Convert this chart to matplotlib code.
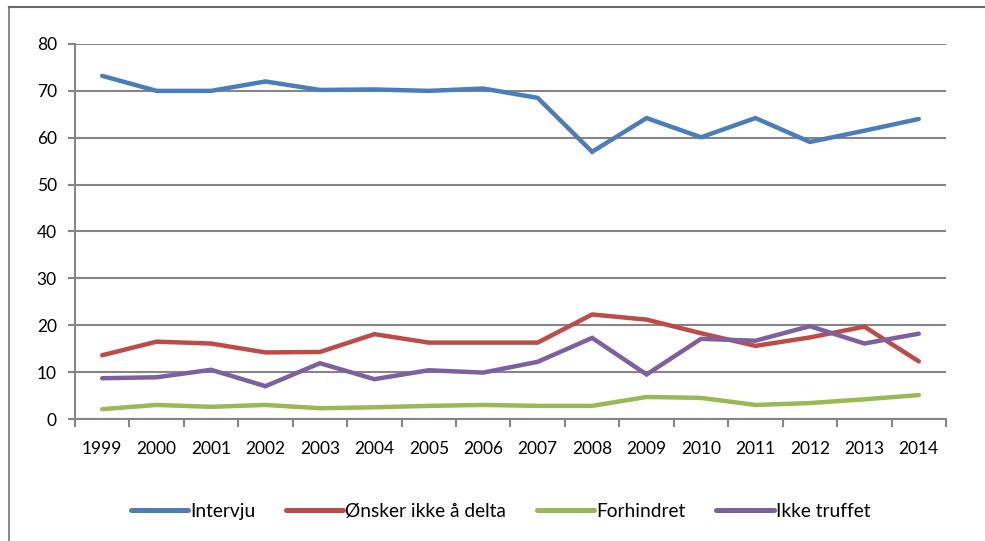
import matplotlib
matplotlib.use("Agg")
import matplotlib.pyplot as plt
from matplotlib.lines import Line2D
import numpy as np

plt.rcParams['font.family'] = ['Lato', 'DejaVu Sans']

years = ['1999', '2000', '2001', '2002', '2003', '2004', '2005', '2006',
         '2007', '2008', '2009', '2010', '2011', '2012', '2013', '2014']
intervju = [73.2, 70.0, 70.0, 72.0, 70.2, 70.3, 70.0, 70.5,
            68.5, 57.0, 64.2, 60.1, 64.2, 59.1, 61.5, 64.0]
onsker = [13.6, 16.5, 16.1, 14.2, 14.3, 18.1, 16.3, 16.3,
          16.3, 22.3, 21.2, 18.3, 15.6, 17.4, 19.7, 12.3]
forhindret = [2.1, 3.0, 2.6, 3.0, 2.3, 2.5, 2.8, 3.0,
              2.8, 2.8, 4.7, 4.5, 3.0, 3.4, 4.2, 5.1]
ikke_truffet = [8.7, 8.9, 10.5, 7.0, 11.9, 8.5, 10.4, 9.9,
                12.2, 17.3, 9.5, 17.1, 16.7, 19.8, 16.1, 18.2]

series = [
    ('Intervju', intervju, '#4A7EBB'),
    ('Ønsker ikke å delta', onsker, '#BE4B48'),
    ('Forhindret', forhindret, '#98B954'),
    ('Ikke truffet', ikke_truffet, '#7D60A0'),
]

fig = plt.figure(figsize=(9.85, 5.41), dpi=100)
ax = fig.add_axes([0.0761, 0.2255, 0.8843, 0.6932])

x = np.arange(len(years))
for name, vals, col in series:
    ax.plot(x, vals, color=col, lw=3.2, label=name, solid_capstyle='round',
            solid_joinstyle='miter', zorder=3)

grid_col = '#868686'
ax.set_ylim(0, 80)
ax.set_yticks(range(0, 81, 10))
ax.set_xlim(-0.5, len(years) - 0.5)
ax.set_xticks(x)
ax.set_xticklabels(years)
ax.set_xticks(np.arange(-0.5, len(years), 1.0), minor=True)
ax.yaxis.grid(True, color=grid_col, lw=1.5, zorder=1)
ax.set_axisbelow(True)

for s in ['top', 'right']:
    ax.spines[s].set_visible(False)
for s in ['left', 'bottom']:
    ax.spines[s].set_color(grid_col)
    ax.spines[s].set_linewidth(1.5)

ax.tick_params(axis='x', which='major', length=0, pad=16, labelsize=12.5)
ax.tick_params(axis='x', which='minor', length=6, width=1.5, color=grid_col, direction='out')
ax.tick_params(axis='y', length=5, width=1.5, color=grid_col, pad=8, labelsize=12.5)

fig.legend(loc='center', bbox_to_anchor=(0.508, 0.055), ncol=4, frameon=False,
           fontsize=13.8, handlelength=3.0, handletextpad=0.1, columnspacing=1.6)
for ln in fig.legends[0].get_lines():
    ln.set_linewidth(3.6)

# outer chart border (cut off at right and bottom)
fig.add_artist(Line2D([9 / 985, 9 / 985], [0, 1 - 7 / 541], color='#8a8a8a', lw=1.5))
fig.add_artist(Line2D([9 / 985, 1], [1 - 7 / 541, 1 - 7 / 541], color='#6a6a6a', lw=1.5))

fig.savefig('out.png', dpi=100)
